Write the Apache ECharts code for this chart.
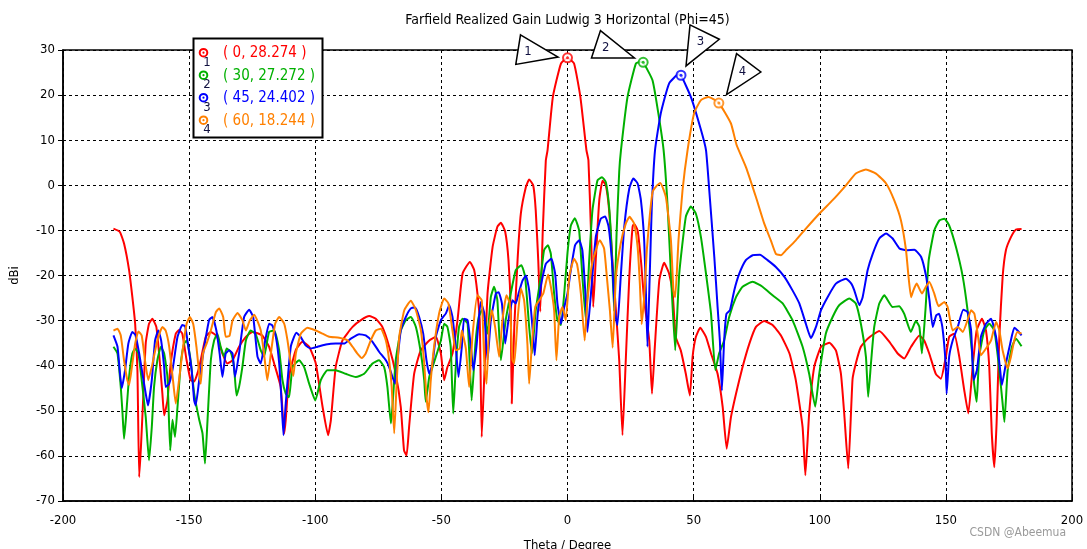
<!DOCTYPE html>
<html>
<head>
<meta charset="utf-8">
<script src="https://cdn.jsdelivr.net/npm/echarts/dist/echarts.min.js"></script>
<style>
html,body{margin:0;padding:0;background:#fff;}
#chart{width:1087px;height:549px;}
</style>
</head>
<body>
<div id="chart"></div>
<script>
// ---- data (theta in degrees, realized gain in dBi) ----
const redData = [[-180,-9.6],[-177.5,-10.3],[-175.8,-12.9],[-173.8,-18.8],[-172.5,-24.8],[-171.4,-30.7],[-170.5,-41],[-169.8,-64.7],[-169.1,-58],[-168.3,-48.4],[-167.2,-35],[-165.9,-30.7],[-164.6,-29.6],[-163,-31.4],[-161.9,-37.3],[-160.6,-46.2],[-159.9,-51],[-158.6,-47.7],[-157.3,-39.5],[-155.3,-32.9],[-154,-32.1],[-152.7,-32.9],[-151,-38.8],[-149.4,-43.2],[-148,-43.5],[-146,-40.3],[-143.4,-33.6],[-141.4,-32.5],[-139,-33.5],[-136.8,-37.3],[-134.8,-39.5],[-132.8,-38.8],[-130.2,-35.8],[-127.5,-33.6],[-124.9,-32.5],[-121,-33.3],[-118.3,-35.8],[-116.3,-39.5],[-113.7,-44.7],[-112.3,-55],[-111.7,-52],[-110.4,-42.5],[-107.7,-36.5],[-105.1,-34.7],[-102.4,-35.8],[-99.8,-39.5],[-97.1,-49.1],[-94.9,-55.4],[-93.8,-52],[-91.9,-40.3],[-89.2,-34.4],[-85.2,-31.4],[-81.9,-29.9],[-78.6,-29],[-76,-29.6],[-73.4,-31.4],[-70.7,-35.8],[-68.1,-41.8],[-66.1,-49.1],[-64.8,-58.8],[-63.8,-59.9],[-62.8,-53.6],[-60.8,-41.8],[-58.2,-36.6],[-54.8,-34.4],[-52.2,-33.6],[-50.2,-37.3],[-48.9,-43.2],[-47.6,-40.3],[-45.6,-37.3],[-43.6,-29.9],[-41.6,-19.6],[-38.7,-17],[-37,-18.8],[-35.7,-24],[-34.8,-29.9],[-34,-55.8],[-33,-42.5],[-31.7,-24],[-29.7,-13.7],[-27.8,-9.2],[-26.4,-8.3],[-24.7,-10.3],[-23.4,-16.6],[-22.5,-27.7],[-22.1,-48.4],[-21.1,-31.4],[-19.8,-16.6],[-18.5,-6.3],[-16.5,-0.4],[-15.2,1.3],[-13.6,0],[-12.6,-5.5],[-11.6,-16.6],[-10.8,-28],[-9.8,-10],[-8.6,5.5],[-7.9,7.8],[-5.8,19.6],[-2.6,27],[0,28.274],[2.6,27],[5.1,19.6],[7.5,7.8],[8.3,5.5],[9.3,-10],[10.2,-27],[11.2,-16.6],[12.6,-3.3],[13.9,1],[15.2,0],[16.5,-5.5],[17.8,-16.6],[19.2,-27.7],[20.5,-38.8],[21.8,-55.4],[23.1,-38.8],[24.5,-20.3],[25.8,-9.2],[26.4,-8.5],[27.8,-10],[29.1,-16.6],[30.4,-25.5],[32.4,-34.4],[33.5,-46.2],[34.6,-36],[36.4,-21],[38.3,-17.2],[40.3,-19.6],[41.7,-24],[42.9,-33.6],[44.9,-36.6],[46.9,-41.8],[48.5,-46.6],[49.6,-38],[50.9,-33.6],[52.6,-31.6],[54.9,-33.6],[56.9,-37.3],[59.5,-41.8],[61.5,-49.1],[63.1,-58.4],[64.8,-51.4],[66.8,-46.2],[69.4,-40.3],[72.1,-35.1],[74.7,-31.4],[78,-30.1],[81.3,-31],[84.6,-33.3],[88,-37.3],[90.5,-43.2],[93.2,-53.6],[94.3,-64.3],[95.8,-50.6],[97.8,-40.3],[100.5,-35.8],[103.8,-34.9],[106.4,-36.6],[108.4,-41.8],[109.7,-50.6],[111.3,-62.8],[113,-43],[114.3,-39.5],[116.3,-35.8],[119,-34],[123.6,-32.3],[127.6,-34.7],[130.9,-37.3],[133.5,-38.4],[136.2,-35.8],[139.5,-33.3],[141.4,-34.4],[143.4,-37.3],[146,-41.8],[148,-42.9],[150,-38],[151.3,-33.6],[153.3,-32.9],[155.3,-38],[157.3,-45.5],[158.9,-50.6],[160.6,-40.3],[162.2,-32.2],[164.3,-29.6],[165.9,-32.2],[167.2,-40.3],[168.2,-55],[169.2,-62.5],[170.1,-52.8],[171.2,-33.6],[172.5,-20.3],[173.8,-14.4],[175.8,-11.5],[177.8,-9.8],[180,-9.7]];

const greenData = [[-180,-35.8],[-178.4,-37.3],[-177.1,-44.7],[-176.4,-50.6],[-175.8,-56.2],[-175.1,-52],[-173.8,-42.5],[-172.5,-37.3],[-171.4,-36.2],[-170.1,-37.3],[-168.5,-44.7],[-167.2,-51.4],[-165.9,-61],[-164.8,-53.6],[-163.9,-44.7],[-162.6,-38.8],[-161.2,-35.8],[-159.9,-37.3],[-158.6,-42.5],[-157.5,-58.8],[-156.6,-52],[-155.6,-55.8],[-154.6,-49.1],[-153.3,-39.5],[-152,-35.1],[-151,-34.4],[-149.4,-38.8],[-148,-46.2],[-146,-52],[-144.7,-55],[-143.7,-61.7],[-142.7,-52],[-141.4,-38.8],[-140.1,-34.4],[-138.8,-32.9],[-137.5,-35.8],[-136.1,-38],[-135.1,-36.2],[-133.5,-37],[-132.2,-40.3],[-131.2,-46.6],[-130.2,-44.7],[-128.9,-40.3],[-127.5,-34.4],[-125.6,-32.2],[-123.6,-33],[-121.6,-36.6],[-120.3,-38],[-118.3,-32.5],[-116.3,-32.2],[-114.3,-36.6],[-113,-43.2],[-111.7,-46.2],[-110.4,-47],[-109,-40.3],[-106.4,-38.8],[-104.4,-40.3],[-102.4,-44],[-100,-47.7],[-97.8,-43.2],[-95.2,-41],[-91.9,-41],[-87.9,-41.8],[-83.9,-42.5],[-80.6,-41.8],[-77.3,-39.5],[-74.7,-38.8],[-72.7,-40.3],[-71.4,-44.7],[-70,-52.8],[-69.4,-49.1],[-68.1,-38.8],[-66.1,-32.2],[-64.1,-29.9],[-62.1,-29.2],[-60.1,-31.4],[-58.1,-37.3],[-56.8,-43.2],[-56.2,-48],[-54.8,-42.5],[-53.5,-40.3],[-50.2,-34.4],[-48.9,-30.7],[-47.6,-31.4],[-46.3,-35.8],[-45.3,-50.6],[-44.3,-40.3],[-43,-31.4],[-41.6,-29.6],[-39.6,-30.7],[-38,-47.7],[-36.5,-35.1],[-35.2,-29.2],[-33.7,-27.5],[-32.6,-30],[-31.7,-32.9],[-30.4,-24.8],[-29.1,-22.5],[-27.8,-25.5],[-26.4,-38.8],[-24.5,-29.9],[-22.5,-24],[-20.5,-18.8],[-18.3,-17.7],[-16.8,-20.3],[-15.2,-31.4],[-14.1,-37.3],[-12.6,-27.7],[-10.6,-20.3],[-9.3,-14.4],[-7.8,-13.3],[-6.6,-15.2],[-5.3,-24],[-4,-29.9],[-2.6,-31],[-1.3,-24],[0,-15],[1.3,-9],[2.9,-7.3],[4.6,-10],[5.9,-20.3],[7.3,-30],[8.6,-16.6],[9.9,-5.5],[11.9,1.1],[13.7,1.8],[15.2,0.7],[16.5,-4.8],[17.5,-14],[18.5,-28],[19.5,-10],[20.5,3],[21.2,7.8],[23.8,19.6],[27.1,27],[29,27.4],[30,27.272],[33.7,23.3],[36,16],[38.1,7.8],[39.7,-4.8],[41,-19.6],[42.7,-36.6],[44.3,-19.6],[46.9,-7],[48.9,-4.7],[50.9,-6.3],[52.9,-11.5],[54.9,-19.6],[56.9,-28.5],[58.6,-41],[60.1,-37.3],[62.1,-34.4],[64.1,-29.2],[66.8,-24.8],[69.4,-22.5],[73.4,-21.4],[77.3,-22.5],[81.3,-24.4],[85.3,-26.2],[89.2,-29.9],[93.2,-35.8],[95.8,-41.8],[98.2,-49.1],[99.8,-41.8],[102.4,-32.9],[105.1,-29.2],[107.7,-26.6],[111.7,-25.1],[114.3,-26.2],[116.3,-30.7],[118.3,-38],[119.2,-46.9],[120.3,-39.5],[121.6,-31.4],[123.6,-26.2],[125.6,-24.4],[128.9,-27],[131.5,-26.8],[133.5,-28.5],[136.1,-32.5],[138.1,-30.1],[139.5,-31.4],[140.5,-37.3],[141.9,-27.7],[143.2,-16.6],[145.4,-10],[147.4,-7.8],[149.4,-7.4],[151.3,-8.9],[154,-13.7],[156.7,-20.3],[158.6,-27.7],[160.3,-36.6],[161.2,-44],[162.2,-48],[163.2,-38],[165.2,-32.2],[167.2,-30.7],[169.2,-32.2],[170.9,-39.5],[172.5,-48.4],[173.2,-52.5],[174.5,-41],[176.2,-35.8],[177.8,-34],[180,-35.7]];

const blueData = [[-180,-33.3],[-178.4,-35.8],[-177.4,-41.8],[-176.7,-45],[-175.4,-41],[-174.1,-35.1],[-172.5,-32.5],[-171.2,-33.3],[-169.8,-37.3],[-168.5,-41.8],[-167.2,-46.2],[-166.3,-48.8],[-164.8,-43.2],[-163.5,-34.4],[-162.2,-32.2],[-161.1,-34.4],[-159.9,-40.3],[-159.3,-44.7],[-157.9,-44],[-156.4,-40.3],[-154.6,-33.6],[-152.7,-31],[-151.6,-31.2],[-150.3,-35.8],[-149,-41],[-148,-47.7],[-147.4,-48.8],[-146,-43.2],[-144,-35.8],[-142.1,-29.9],[-140.8,-29.2],[-139.2,-32.2],[-137.9,-37.3],[-136.8,-42.5],[-135.5,-37.3],[-134.1,-36.6],[-132.8,-37.3],[-131.8,-42.5],[-130.2,-37.3],[-128.2,-29.2],[-126.2,-27.6],[-124.6,-29.2],[-122.9,-38],[-121.6,-39.5],[-120.3,-35.8],[-118.3,-30.7],[-117,-31.1],[-115.6,-33.6],[-114.3,-39.5],[-113.3,-48.4],[-112.6,-55.4],[-111.7,-48.4],[-109.7,-35.8],[-107.5,-32.7],[-105.8,-33.6],[-103.8,-35.5],[-101.8,-36.2],[-99.1,-35.8],[-95.8,-35.3],[-91.9,-35.1],[-88.6,-35.1],[-85.9,-34],[-82.6,-33],[-80,-33.3],[-77.3,-34.7],[-74.7,-36.9],[-72,-38.8],[-70.7,-40.3],[-69.4,-42.5],[-68.3,-44],[-67.4,-38.8],[-66.1,-32.2],[-64.1,-29.2],[-62.1,-27.3],[-60.4,-27.1],[-58.8,-29.2],[-57.2,-32.9],[-55.9,-38.8],[-54.8,-41.8],[-53.5,-39.5],[-52.2,-33.6],[-50.2,-29.9],[-48.2,-28.4],[-46.9,-26.6],[-45.6,-29.2],[-44.3,-35.8],[-43.2,-42.5],[-41.9,-35.8],[-41,-29.6],[-39.6,-29.9],[-38.3,-35.8],[-37.3,-41],[-36.1,-35.8],[-34.4,-25.9],[-33,-28.4],[-31.7,-38.8],[-30.4,-29.9],[-28.4,-24],[-27.3,-23.7],[-26,-26.2],[-24.7,-35.1],[-23.4,-29.9],[-21.8,-25.5],[-20.5,-26.2],[-19.4,-24],[-17.8,-21.1],[-16.5,-20],[-15.2,-23.3],[-13.9,-31.4],[-13,-37.7],[-11.9,-29.2],[-10.6,-22.5],[-8.6,-17.4],[-6.4,-16.3],[-4.9,-19.6],[-4,-26.2],[-2.6,-30.7],[-1.3,-27],[0,-24],[1.3,-18.8],[3,-13.3],[4.6,-12.2],[5.9,-14.4],[7.1,-24],[7.9,-32.5],[9.3,-24],[11.2,-11.5],[13.2,-7.4],[14.9,-6.9],[16.3,-9.2],[17.6,-16.6],[18.9,-28.5],[19.8,-31],[21.1,-20.3],[22.5,-9.2],[24.5,-0.7],[26.1,1.5],[27.8,0.4],[29.1,-3.3],[30.4,-12.2],[31.1,-24],[31.7,-35.8],[32.6,-20],[33.4,-5],[34.7,7.8],[37,16],[40.3,22.6],[44,24.6],[45,24.402],[48.9,19.6],[52.9,12.3],[54.9,7.8],[56.2,-1.1],[58.2,-15.9],[59.5,-27],[60.4,-34.4],[61.2,-45.5],[62.1,-34.4],[63,-28.5],[64.4,-27.7],[66.1,-23.3],[68.1,-19.6],[70.7,-16.6],[73.4,-15.5],[76.3,-15.4],[79.3,-16.6],[82.6,-18.1],[86,-20.3],[89.2,-23.3],[91.9,-26.2],[94.5,-30.7],[96.5,-33.9],[98.5,-31.4],[100.5,-27.7],[103.1,-24.8],[106.4,-21.8],[110.4,-20.7],[112.5,-21.8],[113.7,-23.3],[115.7,-26.6],[117,-24.8],[119,-18.8],[121,-15.2],[123.6,-11.8],[126.3,-10.7],[128.9,-11.8],[131.6,-14],[134.2,-14.4],[137.5,-14.3],[140.2,-15.9],[142.2,-20.3],[143.5,-25.5],[144.8,-31.4],[146.2,-28.8],[147.3,-28.5],[148.6,-31.4],[149.9,-39.5],[150.3,-46.2],[151.3,-38],[152.7,-34.4],[154.7,-31.4],[156.9,-27.6],[158.6,-28.1],[160,-32.2],[161,-43.2],[162.3,-41],[163.9,-33.6],[165.9,-30.7],[167.9,-29.6],[169.9,-33.6],[171.4,-40.3],[172.2,-44.3],[173.8,-39.5],[175.5,-35.1],[177.1,-31.6],[178.4,-32.2],[180,-33.3]];

const orangeData = [[-180,-32.2],[-178.4,-31.8],[-177.1,-33.3],[-175.8,-38.8],[-174.5,-43.2],[-173.8,-44.3],[-172.5,-39.5],[-171.4,-35.1],[-170.1,-32.4],[-168.8,-33.3],[-167.5,-38.8],[-166.2,-43.2],[-164.5,-39.5],[-162.6,-34.4],[-160.6,-31.4],[-159.3,-32.2],[-157.9,-35.8],[-156.4,-43.2],[-155.3,-48.4],[-154,-43.2],[-152.4,-35.8],[-151,-30.7],[-149.7,-29.2],[-148.4,-30.7],[-147.1,-35.8],[-146,-41.8],[-145.4,-44],[-144.5,-37.3],[-143,-35],[-141.4,-32.2],[-139.4,-28.1],[-138.1,-27.3],[-136.5,-29.2],[-135.5,-33.6],[-134,-33.4],[-132.8,-30],[-130.8,-28.3],[-128.9,-29.9],[-127.5,-32.2],[-126,-30],[-124.2,-28.7],[-121.6,-32.2],[-120,-38.8],[-119,-43.2],[-117.6,-37.3],[-115.9,-30.7],[-114.3,-29.2],[-112.3,-30.7],[-111,-34.4],[-109.7,-39.5],[-108.7,-42.3],[-107.7,-37.3],[-105.7,-32.9],[-103.1,-31.6],[-99.8,-32.2],[-97.1,-32.9],[-94.5,-33.6],[-90.5,-33.8],[-87.2,-34.4],[-85.2,-35.8],[-83.3,-37.3],[-81.5,-38.3],[-80,-37.3],[-78,-34.4],[-76,-32.2],[-74,-31.8],[-72,-34.4],[-70.7,-38.8],[-69.7,-44.7],[-68.7,-55],[-67.8,-44.7],[-66.7,-33.6],[-64.7,-27.7],[-62.1,-25.6],[-60.1,-27.7],[-58.1,-32.2],[-56.8,-39.5],[-55.9,-46.9],[-55.1,-50.3],[-54.2,-43.2],[-52.9,-35.8],[-50.9,-28.4],[-48.9,-25.1],[-47.2,-26.2],[-45.6,-32.2],[-44.3,-36.6],[-42.7,-36.2],[-41.9,-32.2],[-40.3,-36.2],[-39,-44.7],[-37.7,-33.6],[-35.7,-24.4],[-34,-25.5],[-33,-38.8],[-32.1,-44],[-31.1,-31.4],[-30,-27.7],[-28.7,-31.4],[-27.1,-38],[-25.8,-29.9],[-24.2,-24.4],[-22.9,-26.2],[-21.8,-38.8],[-21.1,-39.5],[-19.8,-29.9],[-18.5,-22.9],[-17.2,-25.5],[-15.9,-35.1],[-15.2,-44],[-14.1,-35.1],[-12.8,-27],[-11.2,-25.5],[-9.6,-24],[-7.7,-19.8],[-6.6,-22.5],[-5.3,-27.7],[-4.4,-38.8],[-3.3,-29.2],[-2,-27],[-0.7,-29.9],[0.7,-20.3],[2.6,-16.3],[3.8,-17.5],[5.3,-24],[6.8,-34.4],[7.9,-25.5],[9.9,-17],[12.8,-12.2],[14.5,-14],[15.6,-20.3],[16.8,-27.7],[17.9,-36],[19.2,-20.3],[21.1,-12.9],[23.1,-8.5],[24.6,-7],[26.4,-8.5],[27.8,-13.7],[28.7,-22],[29.4,-30.8],[30.5,-24],[31.5,-14],[33.7,-1.5],[35.5,0],[36.8,0.5],[39,-2.6],[41,-12.2],[42,-23.3],[42.7,-24.8],[44,-12.2],[45.6,-1.1],[47.6,7.8],[50.2,16],[52.9,18.9],[55.9,19.6],[60,18.244],[64.8,13.7],[67,9],[70.7,4.1],[74.7,-2.6],[78,-8.5],[80.6,-12.2],[82.6,-15.2],[84.6,-15.5],[86.6,-14.4],[90.5,-12.2],[94.5,-9.6],[99.8,-6.3],[105.1,-3.3],[110.4,0],[114.3,2.6],[118.3,3.5],[122.3,2.6],[126.3,0.4],[129.5,-3.3],[132.2,-7.8],[134.2,-14.4],[135.2,-20.3],[136.2,-24.8],[137.1,-23.3],[138.4,-21.8],[140.5,-24],[142.1,-22.5],[143.4,-21.4],[145.4,-24],[147.1,-26.8],[149.4,-25.9],[150.7,-27],[152.7,-32.2],[154.7,-31.4],[156.7,-32.5],[158.6,-29.9],[160,-27.7],[161.3,-28.5],[162.6,-32.9],[163.9,-37.7],[165.9,-36.2],[167.9,-34.4],[169.9,-30.3],[171.2,-32.2],[172.5,-36.6],[174.5,-40.6],[175.8,-38],[177.1,-34.4],[178.4,-32.5],[180,-32.9]];

const markerLabels = ['1', '2', '3', '4'];
const markerTheta = [0, 30, 45, 60];
const markerGain = [28.274, 27.272, 24.402, 18.244];

const xMin = -200, xMax = 200, xStep = 50;
const yMin = -70, yMax = 30, yStep = 10;

const titleText = 'Farfield Realized Gain Ludwig 3 Horizontal (Phi=45)';
const xName = 'Theta / Degree';
const yName = 'dBi';
const watermark = 'CSDN @Abeemua';

// ---- styling ----
const colors = ['#ff0000', '#00b000', '#0000ff', '#ff8000'];
const FONT = '"DejaVu Sans Condensed", "DejaVu Sans", sans-serif';
const allData = [redData, greenData, blueData, orangeData];

const chart = echarts.init(document.getElementById('chart'), null, {renderer: 'canvas'});

const lineSeries = allData.map((d, i) => ({
  type: 'line',
  data: d,
  showSymbol: false,
  smooth: 0.15,
  lineStyle: {color: colors[i], width: 2},
  itemStyle: {color: colors[i]},
  z: 3,
  silent: true,
  animation: false
}));

const markerRing = {
  type: 'scatter',
  data: markerTheta.map((t, i) => ({value: [t, markerGain[i]], itemStyle: {color: '#fff', borderColor: colors[i], borderWidth: 2}})),
  symbol: 'circle',
  symbolSize: 9,
  z: 5,
  silent: true,
  animation: false
};
const markerDot = {
  type: 'scatter',
  data: markerTheta.map((t, i) => ({value: [t, markerGain[i]], itemStyle: {color: colors[i]}})),
  symbol: 'circle',
  symbolSize: 3,
  z: 6,
  silent: true,
  animation: false
};

const option = {
  animation: false,
  backgroundColor: '#fff',
  grid: {left: 63, right: 15, top: 50, bottom: 48, containLabel: false, outerBoundsMode: 'none',
    show: true, borderColor: '#000', borderWidth: 1.5, backgroundColor: 'transparent'},
  xAxis: {
    type: 'value', min: xMin, max: xMax, interval: xStep,
    name: xName, nameLocation: 'middle', nameGap: 38,
    nameTextStyle: {fontFamily: FONT, fontSize: 13, color: '#000'},
    axisLine: {show: true, onZero: false, lineStyle: {color: '#000', width: 1.5}},
    axisTick: {show: true, inside: true, length: 5, lineStyle: {color: '#000'}},
    axisLabel: {fontFamily: FONT, fontSize: 13, color: '#000', margin: 13},
    splitLine: {show: true, lineStyle: {color: '#000', type: [3, 3], width: 1}}
  },
  yAxis: {
    type: 'value', min: yMin, max: yMax, interval: yStep,
    name: yName, nameLocation: 'middle', nameGap: 42, nameRotate: 90,
    nameTextStyle: {fontFamily: FONT, fontSize: 13, color: '#000'},
    axisLine: {show: true, onZero: false, lineStyle: {color: '#000', width: 1.5}},
    axisTick: {show: true, inside: false, length: 5, lineStyle: {color: '#000'}},
    axisLabel: {fontFamily: FONT, fontSize: 13, color: '#000', margin: 8},
    splitLine: {show: true, lineStyle: {color: '#000', type: [3, 3], width: 1}}
  },
  series: [...lineSeries, markerRing, markerDot]
};
chart.setOption(option);

// ---- annotations: title, legend box, marker callouts ----
const g = [];
g.push({type: 'text', x: 567.5, y: 20, z: 100,
  style: {text: titleText, font: '14px ' + FONT, fill: '#000', align: 'center', verticalAlign: 'middle'}});
g.push({type: 'text', x: 1066, y: 533, z: 100,
  style: {text: watermark, font: '12px ' + FONT, fill: '#9a9a9a', align: 'right', verticalAlign: 'middle'}});

// legend box
const lgX = 193.5, lgY = 38.5, lgW = 129, lgH = 99, rowH = 22.5;
g.push({type: 'rect', z: 100, shape: {x: lgX, y: lgY, width: lgW, height: lgH},
  style: {fill: '#fff', stroke: '#000', lineWidth: 2}});
markerTheta.forEach((t, i) => {
  const cy = 52.7 + rowH * i;
  g.push({type: 'circle', z: 101, shape: {cx: 203.5, cy: cy, r: 3.8}, style: {fill: '#fff', stroke: colors[i], lineWidth: 2}});
  g.push({type: 'circle', z: 102, shape: {cx: 203.5, cy: cy, r: 1.1}, style: {fill: colors[i]}});
  g.push({type: 'text', z: 102, x: 207, y: cy + 9.5,
    style: {text: markerLabels[i], font: '13px ' + FONT, fill: '#101040', align: 'center', verticalAlign: 'middle'}});
  g.push({type: 'text', z: 102, x: 223, y: cy + 0.5,
    style: {text: '( ' + t + ', ' + markerGain[i].toFixed(3) + ' )', font: '15px ' + FONT, fill: colors[i], align: 'left', verticalAlign: 'middle'}});
});

// callout triangles (pixel offsets relative to each marker)
const calloutShape = [
  {pts: [[-47, -23], [-9.4, -0.7], [-51.7, 6.6]], lab: [-39.5, -6]},
  {pts: [[-42.7, -31.7], [-8.7, -4.4], [-51.7, -4.4]], lab: [-37.5, -15]},
  {pts: [[9, -50.3], [38.3, -36], [5, -9.3]], lab: [19.5, -34]},
  {pts: [[17.7, -49.4], [42, -31], [7.7, -8.4]], lab: [23.5, -31]}
];
markerTheta.forEach((t, i) => {
  const p = chart.convertToPixel({gridIndex: 0}, [t, markerGain[i]]);
  const c = calloutShape[i];
  g.push({type: 'polygon', z: 100, shape: {points: c.pts.map(o => [p[0] + o[0], p[1] + o[1]])},
    style: {fill: '#fff', stroke: '#000', lineWidth: 1.5}});
  g.push({type: 'text', z: 101, x: p[0] + c.lab[0], y: p[1] + c.lab[1],
    style: {text: markerLabels[i], font: '13px ' + FONT, fill: '#101040', align: 'center', verticalAlign: 'middle'}});
});
chart.setOption({graphic: g});
</script>
</body>
</html>
